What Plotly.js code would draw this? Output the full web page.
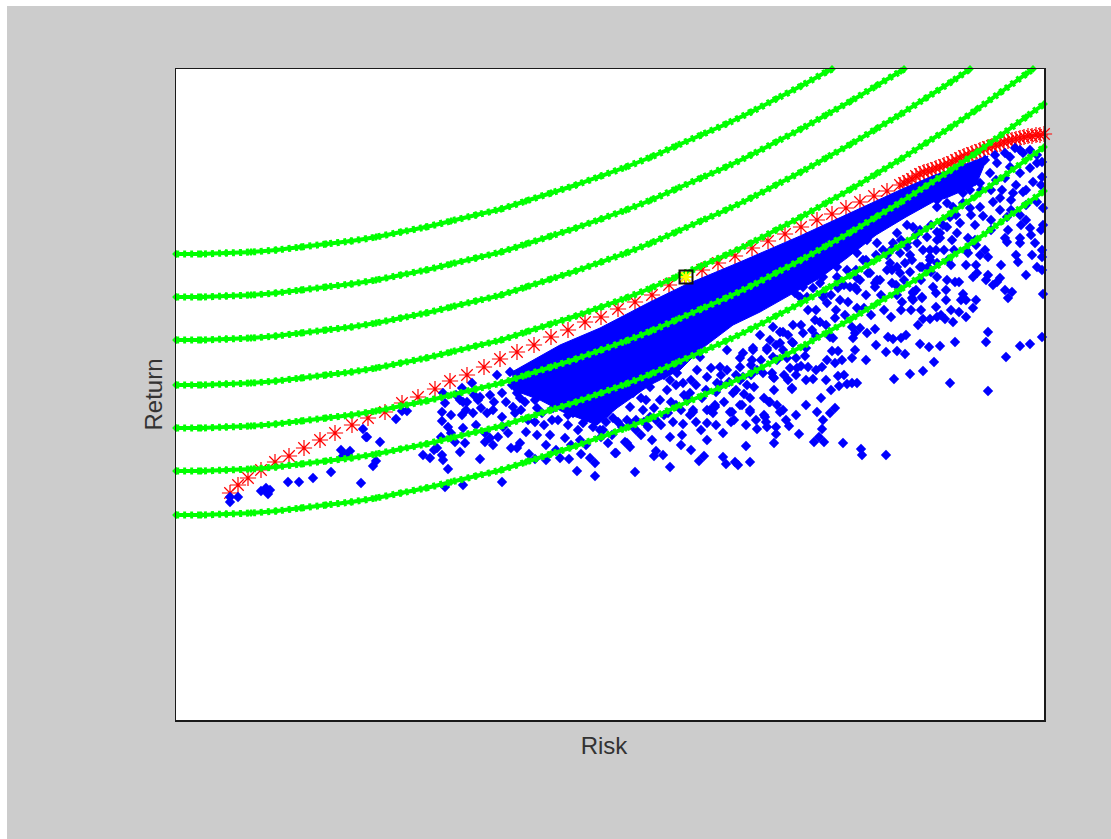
<!DOCTYPE html>
<html>
<head>
<meta charset="utf-8">
<script src="https://cdn.plot.ly/plotly-3.0.1.min.js"></script>
<style>
html,body{margin:0;padding:0;background:#fff;}
#chart{position:absolute;left:7px;top:6px;width:1104px;height:833px;}
</style>
</head>
<body>
<div id="chart"></div>
<script>
// Indifference curves: shared risk grid, one return series per curve
var curveRisk = [0,25,50,75,100,125,150,175,200,225,250,275,300,325,350,375,400,425,450,475,500,525,550,575,600,625,650,675,700,725,750,775,800,825,850,868];
var curveA = [466,466,467,468,470,473,476,479,483,488,493,499,505,511,519,527,535,544,553,563,574,585,596,608,621,634,648,651];
var curveB = [423,423,424,425,427,430,433,436,440,445,450,456,462,468,476,484,492,501,510,520,531,542,553,565,578,591,605,619,634,649,651];
var curveC = [380,380,381,382,384,387,390,393,397,402,407,413,419,425,433,441,449,458,467,477,488,499,510,522,535,548,562,576,591,606,622,638,651];
var curveD = [335,335,336,337,339,342,345,348,352,357,362,368,374,380,388,396,404,413,422,432,443,454,465,477,490,503,517,531,546,561,577,593,610,628,646,651];
var curveE = [292,292,293,294,296,299,302,305,309,314,319,325,331,337,345,353,361,370,379,389,400,411,422,434,447,460,474,488,503,518,534,550,567,585,603,616];
var curveF = [249,249,250,251,253,256,259,262,266,271,276,282,288,294,302,310,318,327,336,346,357,368,379,391,404,417,431,445,460,475,491,507,524,542,560,573];
var curveG = [205,205,206,207,209,212,215,218,222,227,232,238,244,250,258,266,274,283,292,302,313,324,335,347,360,373,387,401,416,431,447,463,480,498,516,529];
var curveEndRisk = [656,728,794,857,868,868,868];

// Efficient frontier
var frontierRisk = [54,62,72,85,99,113,128,144,159,176,192,209,226,242,259,274,291,308,324,341,358,375,392,409,425,442,459,476,493,509,526,542,559,576,592,609,625,641,656,670,684,698,711,724,728,732,736,740,744,748,752,756,760,764,768,772,776,780,784,788,792,796,800,804,808,812,816,820,824,828,832,836,840,844,848,852,856,860,864,868];
var frontierReturn = [227,235,242,250,258,264,272,280,287,295,302,308,317,323,331,339,345,353,361,368,375,383,390,398,403,411,418,425,435,443,450,457,464,472,479,486,493,500,506,512,518,524,529,535,537,539,541,544,546,548,549,550,552,553,555,556,558,560,562,564,565,567,568,570,571,573,574,575,576,578,579,580,581,582,583,584,584,585,585,586];

// Optimal portfolio
var optimalRisk = [510];
var optimalReturn = [443];

// Outline of the region where random portfolios overlap completely
var denseRisk = [336,384,424,474,509,564,624,674,724,759,775,790,812,800,770,757,730,700,671,644,614,584,557,524,504,474,441,421,387,364,337];
var denseReturn = [348,375,392,418,435,458,484,507,530,545,550,556,564,535,522,518,503,485,462,442,425,408,395,370,350,335,312,295,308,320,330];

// Individually visible random portfolios [risk, return]
var portfolios = [
[54,218],[54,223],[62,223],[85,229],[90,229],[92,226],[90,232],[94,230],[112,238],[123,238],[137,242],[155,248],[185,237],[165,270],[169,265],[167,264],[174,269],[172,265],[187,291],[190,283],[191,283],[204,278],[197,254],[200,259],[226,309],[220,301],[231,309],
[266,308],[266,299],[272,293],[287,292],[286,305],[284,320],[291,318],[269,317],[297,307],[302,320],[311,307],[317,310],[326,303],[339,307],[344,322],[359,320],[367,325],[366,307],[359,298],[376,300],[361,285],[374,285],[389,282],[332,287],[327,293],[309,287],[314,282],[309,278],[317,275],[289,277],[279,278],[284,268],[266,265],[267,260],[254,262],[247,265],[261,272],[304,261],[272,251],[287,235],[326,238],[269,233],[344,277],[341,272],[353,266],[359,261],[370,260],[384,262],[393,261],[405,266],[404,280],[414,262],[419,257],[401,249],[419,244],[432,277],[440,267],[449,278],[454,273],[459,248],[478,264],[480,269],[487,265],[494,253],[494,283],[476,280],[472,293],[506,285],[497,298],[507,296],[531,280],[523,259],[528,264],[547,263],[550,256],[559,258],[562,255],[547,287],[531,297],[531,310],[537,307],[539,315],[556,308],[517,308],[514,305],
[321,345],[296,337],[286,332],[267,327],[287,318],[304,323],[314,325],[326,327],[334,348],[336,335],[341,327],[349,318],[337,313],[361,312],[377,312],[387,315],[397,307],[411,303],[421,300],[392,295],[402,290],[417,293],[424,290],[407,297],[451,277],[439,267],[427,290],[446,293],[437,302],[451,300],
[444,340],[431,307],[444,320],[457,327],[474,333],[454,313],[467,310],[484,320],[491,330],[507,337],[501,347],[514,327],[477,343],[494,340],[521,350],[531,343],[541,337],[524,363],[551,350],[474,303],[517,310],[534,310],[539,313],[554,308],[564,315],[574,322],[574,310],[594,318],[601,315],[607,310],[589,303],[616,332],[597,343],[571,335],[557,327],[564,340],[581,350],[564,353],[577,370],[591,370],[544,353],[551,370],[567,367],[594,380],[604,388],[617,377],[607,370],[614,352],[621,352],[601,360],
[566,315],[574,308],[593,318],[604,308],[588,305],[590,298],[581,291],[591,293],[600,293],[600,286],[598,277],[570,274],[574,258],[613,294],[623,286],[641,308],[654,307],[659,312],[647,300],[646,291],[643,283],[638,278],[648,278],[667,277],[685,271],[686,265],[710,265],[616,331],[637,341],[598,342],[662,344],[663,334],[671,336],[676,337],[681,337],[718,341],[734,346],[747,349],[774,337],[812,329],[758,358],[830,363],[844,374],[854,376],[866,383],[810,378],[812,388],[779,378],[764,374],[753,373],[744,376],[729,366],[721,369],[725,382],[717,381],[712,383],[699,391],[691,387],[677,382],[679,370],[676,362],[666,360],[662,369],[656,369],[659,357],[651,360],[646,353],[632,353],[625,354],[629,364],[657,382],[654,383],[715,403],[747,401],[754,401],[761,403],[760,413],[769,401],[777,398],[783,408],[790,403],[797,412],[787,426],[783,438],[797,443],[801,447],[817,435],[821,438],[824,442],[829,430],[836,428],[832,422],[867,426],[856,465],[866,463],[861,453],[866,450],[746,423],[737,427],[737,420],[726,418],[721,425],[699,437],[681,412],[676,393],[684,392],[679,387],[669,405],[664,420],[659,402],[644,398],[636,390],[627,387],[617,395],[607,388],[597,393],[584,385],[604,377],[591,372],[577,372],[616,378],[611,362],[597,363],[587,347],[577,348],[576,360],[564,362],[567,343],[596,347],[681,442],[692,447],[701,440],[711,450],[724,447],[716,437],[734,448],[746,453],[754,470],[761,457],[772,460],[792,467],[804,465],[812,463],[809,470],[831,478],[844,477],[859,477],[647,423],[639,400],[632,410],[651,417],[624,423],[674,433],[681,430],[731,477],[734,465],[747,470],[754,460],[711,465],
[821,557],[834,563],[844,570],[847,567],[861,565],[866,558],[814,547],[804,557],[797,547],[794,552],[781,540],[774,543],[787,540],[774,533],[804,537],[764,527],[761,520],[771,517],[787,527],[794,530],[854,552],[844,547],[829,542],[834,553],[866,543],[861,557],[857,538],[847,528],[837,527],[826,530],[824,522],[817,518],[804,513],[807,504],[799,495],[824,510],[831,503],[844,505],[861,518],[867,512],[777,513],[774,503],[784,497],[767,495],[761,488],[776,480],[764,482],[792,482],[799,480],[829,482],[832,490],[854,492],[844,482],[867,495],[761,513],[787,517],[794,512],[809,560],[819,565],[829,567],[839,572],[854,570],[799,555],
[754,463],[744,453],[721,453],[714,457],[729,457],[736,460],[731,473],[741,477],[751,483],[764,487],[771,493],[761,480],[781,487],[737,493],[731,495],[744,490],[721,487],[717,477],[724,467],[707,470],[701,477],[691,480],[681,467],[687,460],[694,447],[684,440],[679,433],[699,433],[704,440],[671,450],[661,443],[662,432],[644,437],[637,432],[647,427],[627,433],[619,427],[631,423],[614,433],[737,428],[746,422],[736,422],[771,440],[761,443],[779,438],[757,433],[752,453],[661,453],[647,443],
[460,300],[465,322],[478,312],[488,305],[495,318],[505,310],[512,320],[520,298],[526,322],[540,328],[548,318],[558,300],[568,326],[578,333],[588,322],[598,330],[608,345],[620,362],[630,372],[640,384],[650,395],[660,410],[672,418],[690,425],[705,425],[716,450],[728,440],[745,440],[755,448],[768,470],[778,470],[790,455],[800,475],[815,490],[845,495],[850,515],[815,530],[840,535],[870,530],[866,470],[850,445],[842,458],[800,420],[812,445],[790,420],[770,420],[760,427],[708,410],[695,405],[688,412],[650,340],[640,350],[630,340],[620,345],[612,340],[575,355],[560,345],[545,345],[535,352],[515,340],[500,335],[488,345],[470,320],[455,335],[440,330],[430,320],[415,312],[400,320],[382,300],[368,295],[352,300],[345,310],[330,318],[318,318],[305,312],[298,325],[290,310],[280,325],[275,305],[258,270],[265,283],[275,287],[300,295],[322,283],[335,272],[350,288],[370,275],[380,270],[395,275],[410,275],[425,283],[436,285],[460,290],[465,285],[485,295],[505,275],[515,270],[525,290],[540,295],[555,298],[570,295],[580,300],[610,300],[620,305],[630,315],[645,322],[655,330],[668,345],[690,360],[700,375],[710,368],[730,385],[742,395],[765,405],[775,410],[735,410],
[392,305],[405,310],[418,305],[430,298],[442,298],[455,295],[468,298],[480,300],[492,307],[500,315],[508,325],[520,335],[530,330],[545,335],[553,338],[560,330],[575,345],[585,360],[600,375],[612,385],[625,395],[640,410],[655,425],[668,435],[680,450],[690,460],[700,465],[715,470],[725,480],[740,485],[755,495],[780,505],[795,505],[815,500],[835,510],[850,530],[790,540],[805,530],[820,540],[835,520],[850,500],[865,535],[760,470],[790,470],[775,455],[800,455],[720,435],[740,430],[725,410],[745,410],[770,430],[785,420],[810,440],[825,455],[840,465],[855,485],[870,510],[865,490]
];

var GREEN = '#00ff00', BLUE = '#0000ff', RED = '#ff0000';
var traces = [];

traces.push({
  x: frontierRisk, y: frontierReturn, type: 'scatter', mode: 'markers', name: 'Efficient frontier',
  cliponaxis: false,
  marker: {symbol: 'asterisk-open', size: 13.5, color: RED, line: {color: RED, width: 1.2}}
});
traces.push({
  x: denseRisk, y: denseReturn, type: 'scatter', mode: 'lines', name: 'Portfolios (dense)',
  fill: 'toself', fillcolor: BLUE, line: {color: BLUE, width: 1}, hoverinfo: 'skip'
});
traces.push({
  x: portfolios.map(function (p) { return p[0]; }),
  y: portfolios.map(function (p) { return p[1]; }),
  type: 'scatter', mode: 'markers', name: 'Portfolios', cliponaxis: false,
  marker: {symbol: 'diamond', size: 8, color: BLUE}
});

[curveA, curveB, curveC, curveD, curveE, curveF, curveG].forEach(function (ys, i) {
  var xs = curveRisk.slice(0, ys.length);
  xs[xs.length - 1] = curveEndRisk[i];
  traces.push({
    x: xs, y: ys, type: 'scatter', mode: 'lines+markers', name: 'Indifference ' + (i + 1),
    cliponaxis: false,
    line: {color: GREEN, width: 4, shape: 'spline', smoothing: 0.6},
    marker: {symbol: 'diamond', size: 6, color: GREEN}
  });
  traces.push({
    x: xs, y: ys, type: 'scatter', mode: 'lines', cliponaxis: false, hoverinfo: 'skip',
    line: {color: GREEN, width: 7, shape: 'spline', smoothing: 0.6, dash: '3px,4px'}
  });
});

traces.push({
  x: optimalRisk, y: optimalReturn, type: 'scatter', mode: 'markers', name: 'Optimal', cliponaxis: false,
  marker: {symbol: 'asterisk-open', size: 11, color: '#ffff00', line: {color: '#ffff00', width: 2}}
});
traces.push({
  x: optimalRisk, y: optimalReturn, type: 'scatter', mode: 'markers', cliponaxis: false,
  marker: {symbol: 'square-open', size: 13, color: '#111111', line: {color: '#111111', width: 2}}
});

var layout = {
  width: 1104, height: 833,
  margin: {l: 169, r: 67, t: 63, b: 119, pad: 0},
  paper_bgcolor: '#cccccc', plot_bgcolor: '#ffffff',
  showlegend: false,
  font: {family: '"Liberation Sans", Arial, sans-serif', color: '#333333'},
  xaxis: {
    range: [0, 868], showgrid: false, zeroline: false, showticklabels: false, ticks: '',
    showline: true, mirror: true, linecolor: '#1a1a1a', linewidth: 1.5,
    title: {text: 'Risk', font: {size: 24, color: '#333333'}, standoff: 16}
  },
  yaxis: {
    range: [0, 651], showgrid: false, zeroline: false, showticklabels: false, ticks: '',
    showline: true, mirror: true, linecolor: '#1a1a1a', linewidth: 1.5,
    title: {text: 'Return', font: {size: 24, color: '#333333'}, standoff: 5}
  }
};

Plotly.newPlot('chart', traces, layout, {displayModeBar: false, staticPlot: true}).then(function () {
  var t = document.querySelector('.xtitle');
  if (t) { t.setAttribute('transform', 'translate(-6,0)'); }
});
</script>
</body>
</html>
